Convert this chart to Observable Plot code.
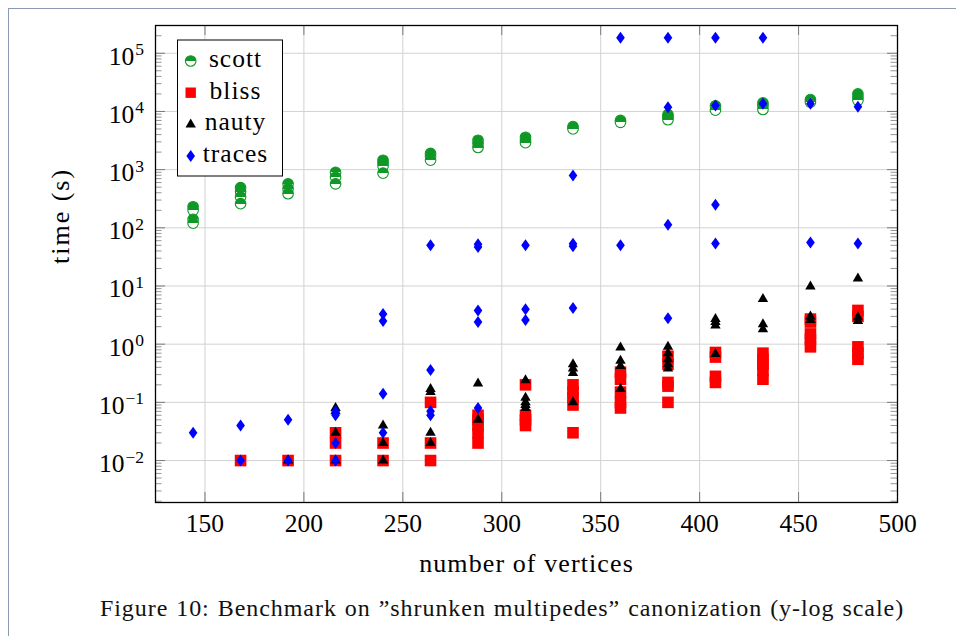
<!DOCTYPE html>
<html>
<head>
<meta charset="utf-8">
<script src="https://cdn.jsdelivr.net/npm/d3@7"></script>
<script src="https://cdn.jsdelivr.net/npm/@observablehq/plot@0.6"></script>
<style>
html, body { margin: 0; padding: 0; background: #fff; }
body { width: 956px; height: 636px; overflow: hidden; position: relative; font-family: "Liberation Serif", serif; }
#border { position: absolute; left: 8px; top: 8px; width: 1200px; height: 1200px; border-left: 1.5px solid #8a9ab3; border-top: 1.5px solid #8a9ab3; }
#chart { position: absolute; left: 0; top: 0; }
#chart svg text { font-family: "Liberation Serif", serif !important; }
#caption { position: absolute; left: 0; top: 596px; width: 1004px; text-align: center; font-size: 24px; line-height: 24px; letter-spacing: 0.95px; word-spacing: 1px; color: #111; white-space: nowrap; }
</style>
</head>
<body>
<div id="border"></div>
<div id="chart"></div>
<div id="caption">Figure 10: Benchmark on ”shrunken multipedes” canonization (y-log scale)</div>
<script>
// ---- data ----
const sizes = [144, 168, 192, 216, 240, 264, 288, 312, 336, 360, 384, 408, 432, 456, 480];
const scottTimes = [
  [230, 200, 140, 120],
  [490, 420, 340, 260],
  [570, 470, 385],
  [900, 740, 570],
  [1450, 1300, 1150, 870],
  [1900, 1700, 1450],
  [3200, 2800, 2400],
  [3600, 3200, 2900],
  [5500, 5000],
  [7000, 6500],
  [8800, 8000, 7200],
  [12500, 10500],
  [14000, 12500, 10800],
  [16000, 14500],
  [20000, 17500, 15500]
];
const blissTimes = [
  [],
  [0.01],
  [0.01],
  [0.03, 0.02, 0.01],
  [0.02, 0.01],
  [0.1, 0.02, 0.01],
  [0.06, 0.05, 0.04, 0.03, 0.02],
  [0.2, 0.06, 0.05, 0.04],
  [0.2, 0.15, 0.12, 0.09, 0.03],
  [0.33, 0.25, 0.15, 0.1, 0.08],
  [0.62, 0.45, 0.22, 0.19, 0.1],
  [0.72, 0.6, 0.28, 0.22],
  [0.7, 0.55, 0.45, 0.35, 0.25],
  [2.7, 2.4, 1.5, 1.2, 0.9],
  [3.8, 3, 0.9, 0.7, 0.55]
];
const nautyTimes = [
  [],
  [],
  [0.01],
  [0.08, 0.07, 0.03, 0.01],
  [0.04, 0.02, 0.01],
  [0.17, 0.15, 0.03, 0.02],
  [0.21, 0.05],
  [0.24, 0.12, 0.1, 0.09, 0.08],
  [0.45, 0.38, 0.32, 0.1],
  [0.88, 0.52, 0.42, 0.17],
  [0.9, 0.7, 0.55, 0.45, 0.38],
  [2.7, 2.4, 2.1, 0.68],
  [6, 2.2, 1.8],
  [9.8, 3, 2.6],
  [13.5, 2.9, 2.5]
];
const tracesTimes = [
  [0.03],
  [0.04, 0.01],
  [0.05, 0.01],
  [0.07, 0.06, 0.02, 0.01],
  [3.3, 2.5, 0.14, 0.03],
  [50, 0.36, 0.07, 0.06],
  [52, 47, 3.8, 2.4, 0.08],
  [50, 4.0, 2.6],
  [790, 53, 48, 4.2],
  [185000, 50],
  [185000, 11800, 113, 2.8],
  [185000, 12600, 250, 54],
  [185000, 13500],
  [13500, 56],
  [12100, 54]
];
const seriesNames = ["scott", "bliss", "nauty", "traces"];
const xTicks = [150, 200, 250, 300, 350, 400, 450, 500];
const yExponents = [-2, -1, 0, 1, 2, 3, 4, 5];
const xDomain = [125, 500];
const yDomain = [1.9e-3, 3.0e5];
const xTitle = "number of vertices";
const yTitle = "time (s)";

// ---- helpers ----
const rows = (times) => sizes.flatMap((n, i) => times[i].map(t => ({n, t})));
const yDecades = yExponents.map(e => Math.pow(10, e));
const yMinor = [];
for (let e = -3; e <= 5; e++) for (let k = 2; k <= 9; k++) {
  const v = k * Math.pow(10, e);
  if (v > yDomain[0] && v < yDomain[1]) yMinor.push(v);
}
const green = "#0f9826";
const FONT = '"Liberation Serif", serif';

const W = 956, H = 590, mL = 155, mR = 59, mT = 25, mB = 88;
const pxPerX = (W - mL - mR) / (xDomain[1] - xDomain[0]);
const pxPerDec = (H - mT - mB) / (Math.log10(yDomain[1]) - Math.log10(yDomain[0]));
const majLen = 10, minLen = 6.5;
const dxMaj = majLen / pxPerX, dxMin = minLen / pxPerX;
const fy = Math.pow(10, majLen / pxPerDec);

const squareSym = { draw(ctx, size) { const r = Math.sqrt(size / Math.PI); ctx.rect(-r, -r, 2 * r, 2 * r); } };
const triSym = { draw(ctx, size) { const r = Math.sqrt(size / Math.PI); ctx.moveTo(0, -r); ctx.lineTo(r * 0.866, r * 0.5); ctx.lineTo(-r * 0.866, r * 0.5); ctx.closePath(); } };
const diamondSym = { draw(ctx, size) { const r = Math.sqrt(size / Math.PI); ctx.moveTo(0, -r); ctx.lineTo(r * 0.72, 0); ctx.lineTo(0, r); ctx.lineTo(-r * 0.72, 0); ctx.closePath(); } };

const tickStroke = "#7a7a7a";
const gridStroke = "#d2d2d2";

const plot = Plot.plot({
  width: W, height: H,
  marginLeft: mL, marginRight: mR, marginTop: mT, marginBottom: mB,
  style: { fontFamily: FONT, fontSize: "25px", background: "transparent", color: "black", overflow: "visible" },
  x: { domain: xDomain, axis: null },
  y: { type: "log", domain: yDomain, axis: null },
  marks: [
    Plot.gridX(xTicks.slice(0, -1), { stroke: gridStroke, strokeOpacity: 1, strokeWidth: 1 }),
    Plot.gridY(yDecades, { stroke: gridStroke, strokeOpacity: 1, strokeWidth: 1 }),
    // ticks
    Plot.ruleY(yDecades, { y: d => d, x1: xDomain[0], x2: xDomain[0] + dxMaj, stroke: tickStroke, strokeWidth: 1 }),
    Plot.ruleY(yDecades, { y: d => d, x1: xDomain[1] - dxMaj, x2: xDomain[1], stroke: tickStroke, strokeWidth: 1 }),
    Plot.ruleY(yMinor, { y: d => d, x1: xDomain[0], x2: xDomain[0] + dxMin, stroke: tickStroke, strokeWidth: 0.8 }),
    Plot.ruleY(yMinor, { y: d => d, x1: xDomain[1] - dxMin, x2: xDomain[1], stroke: tickStroke, strokeWidth: 0.8 }),
    Plot.ruleX(xTicks, { x: d => d, y1: yDomain[0], y2: yDomain[0] * fy, stroke: tickStroke, strokeWidth: 1 }),
    Plot.ruleX(xTicks, { x: d => d, y1: yDomain[1] / fy, y2: yDomain[1], stroke: tickStroke, strokeWidth: 1 }),
    // data
    Plot.dot(rows(scottTimes), { x: "n", y: "t", r: 5.3, symbol: "circle", fill: "url(#scottHalf)", stroke: green, strokeWidth: 1.1 }),
    Plot.dot(rows(blissTimes), { x: "n", y: "t", r: 5.8, symbol: squareSym, fill: "#ff0000" }),
    Plot.dot(rows(nautyTimes), { x: "n", y: "t", r: 6, symbol: triSym, fill: "#000000" }),
    Plot.dot(rows(tracesTimes), { x: "n", y: "t", r: 6, symbol: diamondSym, fill: "#0000ff" }),
    Plot.frame({ stroke: "black", strokeWidth: 1.3 }),
    // tick labels
    Plot.text(xTicks, { x: d => d, frameAnchor: "bottom", lineAnchor: "top", dy: 11, text: d => String(d), fontSize: 25.5 }),
    Plot.text(yExponents, { y: d => Math.pow(10, d), frameAnchor: "left", textAnchor: "end", dx: -11.5, dy: 3.3, text: d => "10^" + d, fontSize: 25.5 }),
    // axis titles
    Plot.text([xTitle], { frameAnchor: "bottom", lineAnchor: "bottom", dy: 69, text: d => d, fontSize: 26 }),
    Plot.text([yTitle], { frameAnchor: "left", lineAnchor: "bottom", rotate: -90, dx: -87, text: d => d, fontSize: 26 })
  ]
});

document.getElementById("chart").appendChild(plot);

const svg = d3.select(plot);
// gradient for half-filled circles
const defs = svg.insert("defs", ":first-child");
const grad = defs.append("linearGradient").attr("id", "scottHalf").attr("x1", 0).attr("y1", 0).attr("x2", 0).attr("y2", 1);
grad.append("stop").attr("offset", 0.5).attr("stop-color", green);
grad.append("stop").attr("offset", 0.5).attr("stop-color", "#ffffff");

// superscripts on y tick labels, spacing on titles
svg.selectAll("text").each(function () {
  const s = this.textContent;
  if (s === xTitle) { this.style.letterSpacing = "1.1px"; return; }
  if (s === yTitle) { this.style.letterSpacing = "2px"; return; }
  if (s.indexOf("^") < 0) return;
  const parts = s.split("^");
  const t = d3.select(this);
  t.text(null);
  t.append("tspan").text(parts[0]);
  t.append("tspan").attr("dy", -9.5).attr("dx", 1).attr("font-size", "17.5px").text(parts[1].replace("-", "\u2212"));
});

// legend
const legend = svg.append("g");
legend.append("rect").attr("x", 177.5).attr("y", 40).attr("width", 105).attr("height", 136)
  .attr("fill", "white").attr("stroke", "black").attr("stroke-width", 1);
const legendSpec = [
  { sym: d3.symbolCircle, r: 5.3, fill: "url(#scottHalf)", stroke: green },
  { sym: squareSym, r: 5.2, fill: "#ff0000", stroke: "none" },
  { sym: triSym, r: 6, fill: "#000000", stroke: "none" },
  { sym: diamondSym, r: 6, fill: "#0000ff", stroke: "none" }
];
seriesNames.forEach((name, i) => {
  const cy = 61 + i * 31.7;
  const s = legendSpec[i];
  legend.append("path").attr("transform", `translate(190.7,${cy})`)
    .attr("d", d3.symbol(s.sym, Math.PI * s.r * s.r)())
    .attr("fill", s.fill).attr("stroke", s.stroke).attr("stroke-width", 1.1);
  legend.append("text").attr("x", 235.5).attr("y", cy + 5.8).attr("text-anchor", "middle")
    .attr("font-size", "25.5px").attr("fill", "black").style("letter-spacing", "1px").text(name);
});
</script>
</body>
</html>
